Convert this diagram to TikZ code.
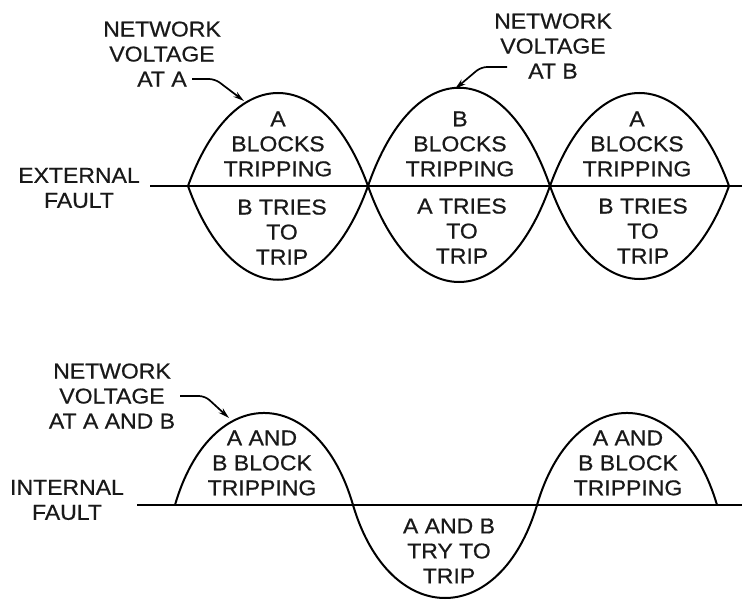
\documentclass[tikz,border=0pt]{standalone}
\usepackage{fontspec}
\setmainfont{Liberation Sans}[FakeStretch=1.07,FakeBold=0.6]
\usetikzlibrary{arrows.meta}
\begin{document}
\begin{tikzpicture}[x=1bp,y=-1bp,
  lbl/.style={align=center,inner sep=0pt,font=\fontsize{21.5bp}{25bp}\selectfont,text=black!90},
  wave/.style={line width=2bp},
  axisline/.style={line width=2.3bp},
  pointer/.style={line width=1.7bp,rounded corners=6bp,-{Stealth[length=11bp,width=6bp]}}]
\useasboundingbox (0,0) rectangle (742,601);
\fill[white] (0,0) rectangle (742,601);

% ---------- external fault ----------
\coordinate (ex0) at (150,186);
\coordinate (ex1) at (742,186);
\draw[axisline] (ex0) -- (ex1);
\draw[wave] (188,186) .. controls (233,62) and (323,62) .. (368,186);
\draw[wave] (188,186) .. controls (233,311) and (323,311) .. (368,186);
\draw[wave] (368,186) .. controls (413.5,55) and (504.5,55) .. (550,186);
\draw[wave] (368,186) .. controls (413.5,314) and (504.5,314) .. (550,186);
\draw[wave] (550,186) .. controls (594.75,62) and (684.25,62) .. (729,186);
\draw[wave] (550,186) .. controls (594.75,310) and (684.25,310) .. (729,186);

\node[lbl] (extf) at (79,188) {EXTERNAL\\FAULT};
\node[lbl] (nva) at (162,54) {NETWORK\\VOLTAGE\\AT A};
\node[lbl] (nvb) at (553,46) {NETWORK\\VOLTAGE\\AT B};

\node[lbl] (u1) at (278,144) {A\\BLOCKS\\TRIPPING};
\node[lbl] (d1) at (282,232) {B TRIES\\TO\\TRIP};
\node[lbl] (u2) at (460,144) {B\\BLOCKS\\TRIPPING};
\node[lbl] (d2) at (462,231) {A TRIES\\TO\\TRIP};
\node[lbl] (u3) at (637,144) {A\\BLOCKS\\TRIPPING};
\node[lbl] (d3) at (643,231) {B TRIES\\TO\\TRIP};

\coordinate (paS) at (192,79);
\coordinate (paT) at (244,101);
\draw[pointer] (paS) -- (215,79) -- (paT);
\coordinate (pbS) at (507,67);
\coordinate (pbT) at (455,89);
\draw[pointer] (pbS) -- (481,67) -- (pbT);

% ---------- internal fault ----------
\coordinate (in0) at (137,505);
\coordinate (in1) at (742,505);
\draw[axisline] (in0) -- (in1);
\draw[wave] (175,505) .. controls (210.6,382.3) and (317.4,382.3) .. (353,505)
  .. controls (389.8,629) and (500.2,629) .. (537,505)
  .. controls (573,382.3) and (681,382.3) .. (717,505);

\node[lbl] (intf) at (67,500) {INTERNAL\\FAULT};
\node[lbl] (nvab) at (112,396) {NETWORK\\VOLTAGE\\AT A AND B};
\node[lbl] (b1) at (262,463) {A AND\\B BLOCK\\TRIPPING};
\node[lbl] (b2) at (449,551) {A AND B\\TRY TO\\TRIP};
\node[lbl] (b3) at (628,463) {A AND\\B BLOCK\\TRIPPING};

\coordinate (pcS) at (180,396);
\coordinate (pcT) at (229,418);
\draw[pointer] (pcS) -- (205,396) -- (pcT);
\end{tikzpicture}
\end{document}
